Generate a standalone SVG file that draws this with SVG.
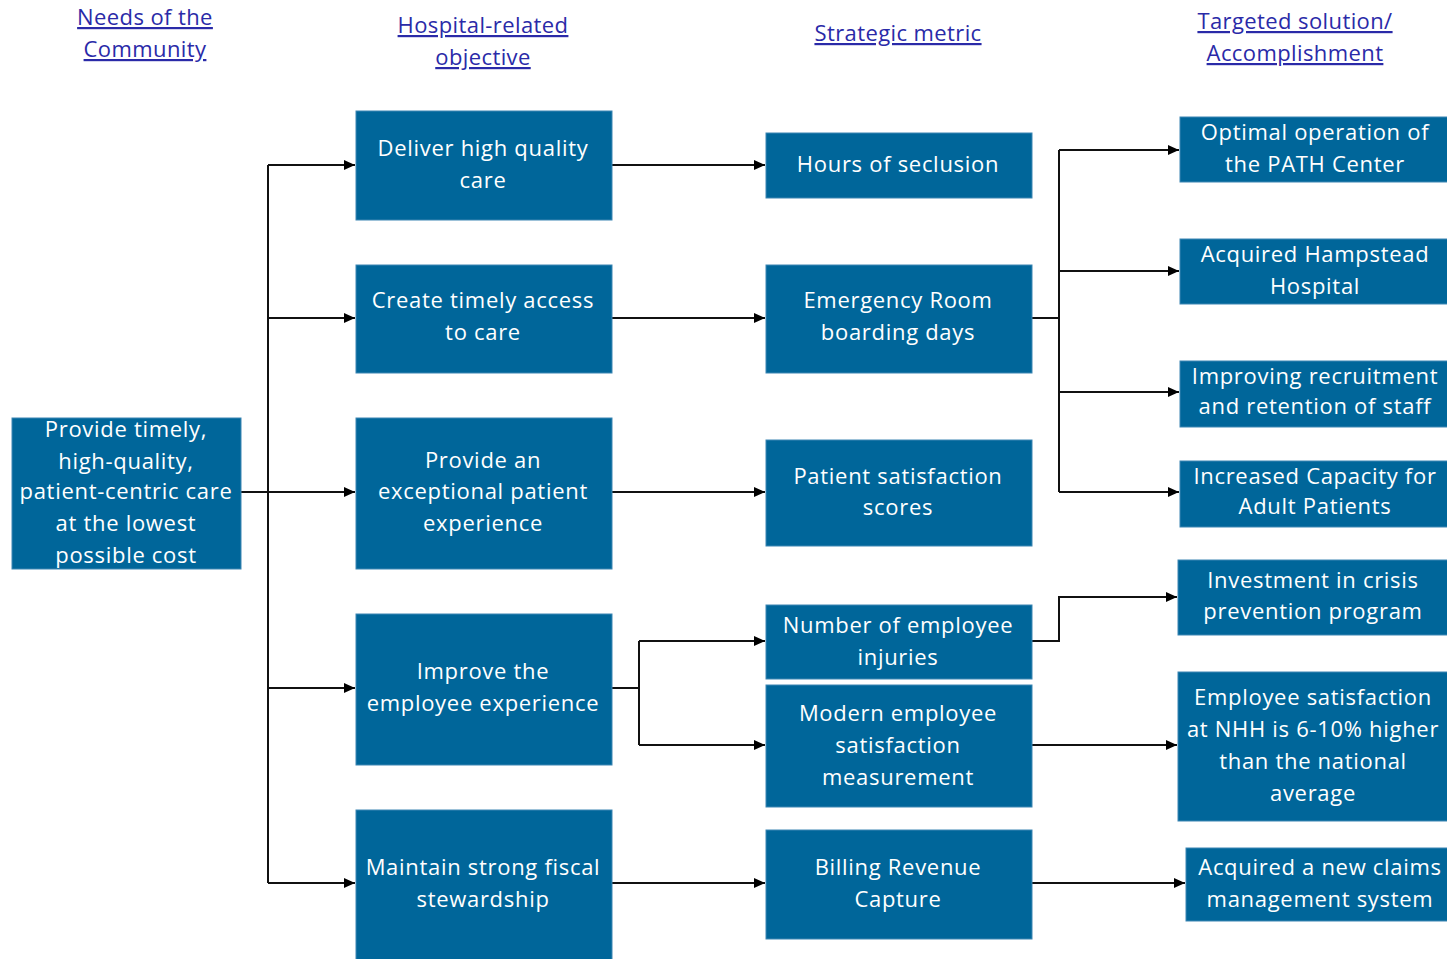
<svg xmlns="http://www.w3.org/2000/svg" width="1447" height="959" viewBox="0 0 1447 959">
<defs>
<marker id="ah" markerUnits="userSpaceOnUse" markerWidth="12" markerHeight="12" refX="11" refY="6" orient="auto">
<path d="M0,1 L11,6 L0,11 z" fill="#000"/>
</marker>
<style>
.box{fill:#00669a;stroke:#3d86b3;stroke-width:1}
.t{font-family:"Open Sans","Liberation Sans",sans-serif;font-size:22px;fill:#fff;text-anchor:middle;letter-spacing:0.7px}
.h{font-family:"Open Sans","Liberation Sans",sans-serif;font-size:22px;fill:#2a2aa8;text-anchor:middle;text-decoration:underline;letter-spacing:0.4px}
.c{fill:none;stroke:#111;stroke-width:2}
.a{marker-end:url(#ah)}
</style>
</defs>
<rect width="1447" height="959" fill="#fff"/>

<g id="headers">
<text class="h" x="145" y="25">Needs of the</text>
<text class="h" x="145" y="57">Community</text>
<text class="h" x="483" y="33">Hospital-related</text>
<text class="h" x="483" y="65">objective</text>
<text class="h" x="898" y="41">Strategic metric</text>
<text class="h" x="1295" y="29">Targeted solution/</text>
<text class="h" x="1295" y="61">Accomplishment</text>
</g>

<g id="connectors">
<path class="c" d="M268,165 V883"/>
<path class="c a" d="M241,492 H355"/>
<path class="c a" d="M268,165 H355"/>
<path class="c a" d="M268,318 H355"/>
<path class="c a" d="M268,688 H355"/>
<path class="c a" d="M268,883 H355"/>
<path class="c a" d="M612,165 H765"/>
<path class="c a" d="M612,318 H765"/>
<path class="c a" d="M612,492 H765"/>
<path class="c" d="M612,688 H639"/>
<path class="c a" d="M639,641 H765"/>
<path class="c a" d="M639,745 H765"/>
<path class="c" d="M639,641 V745"/>
<path class="c a" d="M612,883 H765"/>
<path class="c" d="M1032,318 H1059"/>
<path class="c" d="M1059,150 V492"/>
<path class="c a" d="M1059,150 H1179"/>
<path class="c a" d="M1059,271 H1179"/>
<path class="c a" d="M1059,392 H1179"/>
<path class="c a" d="M1059,492 H1179"/>
<path class="c a" d="M1032,641 H1059 V597 H1177"/>
<path class="c a" d="M1032,745 H1177"/>
<path class="c a" d="M1032,883 H1185"/>
</g>

<g id="n-community">
<rect class="box" x="12" y="418" width="229" height="151"/>
<text class="t" x="126" y="437">Provide timely,</text>
<text class="t" x="126" y="469">high-quality,</text>
<text class="t" x="126" y="499">patient-centric care</text>
<text class="t" x="126" y="531">at the lowest</text>
<text class="t" x="126" y="563">possible cost</text>
</g>

<g id="n-deliver">
<rect class="box" x="356" y="111" width="256" height="109"/>
<text class="t" x="483" y="156">Deliver high quality</text>
<text class="t" x="483" y="188">care</text>
</g>
<g id="n-access">
<rect class="box" x="356" y="265" width="256" height="108"/>
<text class="t" x="483" y="308">Create timely access</text>
<text class="t" x="483" y="340">to care</text>
</g>
<g id="n-experience">
<rect class="box" x="356" y="418" width="256" height="151"/>
<text class="t" x="483" y="468">Provide an</text>
<text class="t" x="483" y="499">exceptional patient</text>
<text class="t" x="483" y="531">experience</text>
</g>
<g id="n-employee">
<rect class="box" x="356" y="614" width="256" height="151"/>
<text class="t" x="483" y="679">Improve the</text>
<text class="t" x="483" y="711">employee experience</text>
</g>
<g id="n-fiscal">
<rect class="box" x="356" y="810" width="256" height="155"/>
<text class="t" x="483" y="875">Maintain strong fiscal</text>
<text class="t" x="483" y="907">stewardship</text>
</g>

<g id="m-seclusion">
<rect class="box" x="766" y="133" width="266" height="65"/>
<text class="t" x="898" y="172">Hours of seclusion</text>
</g>
<g id="m-er">
<rect class="box" x="766" y="265" width="266" height="108"/>
<text class="t" x="898" y="308">Emergency Room</text>
<text class="t" x="898" y="340">boarding days</text>
</g>
<g id="m-patient">
<rect class="box" x="766" y="440" width="266" height="106"/>
<text class="t" x="898" y="484">Patient satisfaction</text>
<text class="t" x="898" y="515">scores</text>
</g>
<g id="m-injuries">
<rect class="box" x="766" y="605" width="266" height="74"/>
<text class="t" x="898" y="633">Number of employee</text>
<text class="t" x="898" y="665">injuries</text>
</g>
<g id="m-modern">
<rect class="box" x="766" y="685" width="266" height="122"/>
<text class="t" x="898" y="721">Modern employee</text>
<text class="t" x="898" y="753">satisfaction</text>
<text class="t" x="898" y="785">measurement</text>
</g>
<g id="m-billing">
<rect class="box" x="766" y="830" width="266" height="109"/>
<text class="t" x="898" y="875">Billing Revenue</text>
<text class="t" x="898" y="907">Capture</text>
</g>

<g id="s-path">
<rect class="box" x="1180" y="117" width="270" height="65"/>
<text class="t" x="1315" y="140">Optimal operation of</text>
<text class="t" x="1315" y="172">the PATH Center</text>
</g>
<g id="s-hampstead">
<rect class="box" x="1180" y="239" width="270" height="65"/>
<text class="t" x="1315" y="262">Acquired Hampstead</text>
<text class="t" x="1315" y="294">Hospital</text>
</g>
<g id="s-recruit">
<rect class="box" x="1180" y="361" width="270" height="66"/>
<text class="t" x="1315" y="384">Improving recruitment</text>
<text class="t" x="1315" y="414">and retention of staff</text>
</g>
<g id="s-capacity">
<rect class="box" x="1180" y="461" width="270" height="66"/>
<text class="t" x="1315" y="484">Increased Capacity for</text>
<text class="t" x="1315" y="514">Adult Patients</text>
</g>
<g id="s-crisis">
<rect class="box" x="1178" y="560" width="272" height="75"/>
<text class="t" x="1313" y="588">Investment in crisis</text>
<text class="t" x="1313" y="619">prevention program</text>
</g>
<g id="s-nhh">
<rect class="box" x="1178" y="672" width="272" height="149"/>
<text class="t" x="1313" y="705">Employee satisfaction</text>
<text class="t" x="1313" y="737">at NHH is 6-10% higher</text>
<text class="t" x="1313" y="769">than the national</text>
<text class="t" x="1313" y="801">average</text>
</g>
<g id="s-claims">
<rect class="box" x="1186" y="848" width="264" height="73"/>
<text class="t" x="1320" y="875">Acquired a new claims</text>
<text class="t" x="1320" y="907">management system</text>
</g>
</svg>
